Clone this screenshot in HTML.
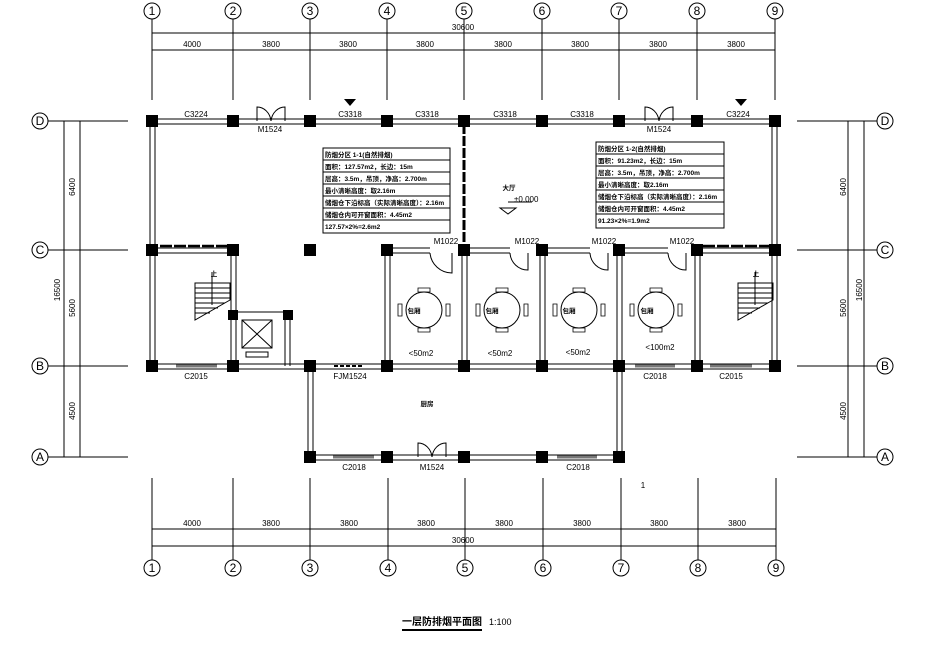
<!DOCTYPE html>
<html><head><meta charset="utf-8"><style>
html,body{margin:0;padding:0;background:#fff}
svg{display:block}
text{font-family:"Liberation Sans","Noto Sans CJK SC",sans-serif;fill:#000}
.t{font-size:8px}
.c{font-size:6.5px;font-weight:bold}
</style></head><body>
<svg width="938" height="663" viewBox="0 0 938 663" xmlns="http://www.w3.org/2000/svg">
<g stroke="#000" stroke-width="1" fill="none">
<path d="M152 19V100M233 19V100M310 19V100M387 19V100M464 19V100M542 19V100M619 19V100M697 19V100M775 19V100"/>
<path d="M152 33H775M152 50H775"/>
<path d="M152 478V560M233 478V560M310 478V560M388 478V560M465 478V560M543 478V560M621 478V560M698 478V560M776 478V560"/>
<path d="M152 529H776M152 546H776"/>
<path d="M48 121H128M48 250H128M48 366H128M48 457H128M64 121V457M80 121V457"/>
<path d="M797 121H877M797 250H877M797 366H877M797 457H877M848 121V457M864 121V457"/>
<circle cx="152" cy="11" r="8"/><circle cx="233" cy="11" r="8"/><circle cx="310" cy="11" r="8"/><circle cx="387" cy="11" r="8"/><circle cx="464" cy="11" r="8"/><circle cx="542" cy="11" r="8"/><circle cx="619" cy="11" r="8"/><circle cx="697" cy="11" r="8"/><circle cx="775" cy="11" r="8"/>
<circle cx="152" cy="568" r="8"/><circle cx="233" cy="568" r="8"/><circle cx="310" cy="568" r="8"/><circle cx="388" cy="568" r="8"/><circle cx="465" cy="568" r="8"/><circle cx="543" cy="568" r="8"/><circle cx="621" cy="568" r="8"/><circle cx="698" cy="568" r="8"/><circle cx="776" cy="568" r="8"/>
<circle cx="40" cy="121" r="8"/><circle cx="40" cy="250" r="8"/><circle cx="40" cy="366" r="8"/><circle cx="40" cy="457" r="8"/>
<circle cx="885" cy="121" r="8"/><circle cx="885" cy="250" r="8"/><circle cx="885" cy="366" r="8"/><circle cx="885" cy="457" r="8"/>
</g>
<g font-size="12" text-anchor="middle">
<text x="152" y="15">1</text><text x="233" y="15">2</text><text x="310" y="15">3</text><text x="387" y="15">4</text><text x="464" y="15">5</text><text x="542" y="15">6</text><text x="619" y="15">7</text><text x="697" y="15">8</text><text x="775" y="15">9</text>
<text x="152" y="572">1</text><text x="233" y="572">2</text><text x="310" y="572">3</text><text x="388" y="572">4</text><text x="465" y="572">5</text><text x="543" y="572">6</text><text x="621" y="572">7</text><text x="698" y="572">8</text><text x="776" y="572">9</text>
<text x="40" y="125">D</text><text x="40" y="254">C</text><text x="40" y="370">B</text><text x="40" y="461">A</text>
<text x="885" y="125">D</text><text x="885" y="254">C</text><text x="885" y="370">B</text><text x="885" y="461">A</text>
</g>
<g class="t" text-anchor="middle">
<text x="463" y="30">30600</text>
<text x="192" y="47">4000</text><text x="271" y="47">3800</text><text x="348" y="47">3800</text><text x="425" y="47">3800</text><text x="503" y="47">3800</text><text x="580" y="47">3800</text><text x="658" y="47">3800</text><text x="736" y="47">3800</text>
<text x="192" y="526">4000</text><text x="271" y="526">3800</text><text x="349" y="526">3800</text><text x="426" y="526">3800</text><text x="504" y="526">3800</text><text x="582" y="526">3800</text><text x="659" y="526">3800</text><text x="737" y="526">3800</text>
<text x="463" y="543">30600</text>
<text transform="translate(75,187) rotate(-90)">6400</text>
<text transform="translate(75,308) rotate(-90)">5600</text>
<text transform="translate(75,411) rotate(-90)">4500</text>
<text transform="translate(60,290) rotate(-90)">16500</text>
<text transform="translate(846,187) rotate(-90)">6400</text>
<text transform="translate(846,308) rotate(-90)">5600</text>
<text transform="translate(846,411) rotate(-90)">4500</text>
<text transform="translate(862,290) rotate(-90)">16500</text>
</g>
<g stroke="#000" stroke-width="1" fill="none">
<path d="M152 119H775M152 124H775"/>
<path d="M150 121V366M155 121V366M772 121V366M777 121V366"/>
<path d="M152 364H775M152 369H775"/>
<path d="M308 366V457M313 366V457M617 366V457M622 366V457"/>
<path d="M310 455H619M310 460H619"/>
<path d="M385 250V366M390 250V366M462 250V366M467 250V366M540 250V366M545 250V366M617 250V366M622 250V366M695 250V366M700 250V366"/>
<path d="M387 248H430M387 253H430M464 248H510M464 253H510M542 248H590M542 253H590M619 248H668M619 253H668"/>
<path d="M231 250V366M236 250V366M152 248H233M152 253H233"/>
<path d="M285 312V366M290 312V366M233 312H288"/>
<rect x="242" y="320" width="30" height="28"/><path d="M242 320L272 348M272 320L242 348"/>
<rect x="246" y="352" width="22" height="5"/>
<path d="M195 283V320L230 300V283ZM195 288H230M195 293H230M195 298H230M195 303H225M195 308H218M195 313H210M212 272V305"/>
<path d="M738 283V320L773 300V283ZM738 288H773M738 293H773M738 298H773M738 303H768M738 308H760M738 313H752M755 272V305"/>
<path d="M697 248H775M697 253H775"/>
<path d="M430 253A22 22 0 0 0 452 273V253M510 253A18 18 0 0 0 528 270V253M590 253A18 18 0 0 0 608 270V253M668 253A18 18 0 0 0 686 270V253"/>
<path d="M257 121V107A14 16 0 0 1 271 121A14 16 0 0 1 285 107V121M645 121V107A14 16 0 0 1 659 121A14 16 0 0 1 673 107V121M418 457V443A14 16 0 0 1 432 457A14 16 0 0 1 446 443V457"/>
<path d="M464 124V248" stroke-width="3" stroke-dasharray="10 2"/>
<path d="M160 246H230M703 246H770" stroke-width="2.5" stroke-dasharray="12 2"/>
<path d="M334 366H364" stroke-width="2" stroke-dasharray="4 2"/>
<circle cx="424" cy="310" r="18"/><circle cx="502" cy="310" r="18"/><circle cx="579" cy="310" r="18"/><circle cx="656" cy="310" r="18"/>
<g stroke-width="0.8">
<path d="M418 288h12v4h-12zM418 328h12v4h-12zM402 304v12h-4v-12zM446 304v12h4v-12z"/>
<path d="M496 288h12v4h-12zM496 328h12v4h-12zM480 304v12h-4v-12zM524 304v12h4v-12z"/>
<path d="M573 288h12v4h-12zM573 328h12v4h-12zM557 304v12h-4v-12zM601 304v12h4v-12z"/>
<path d="M650 288h12v4h-12zM650 328h12v4h-12zM634 304v12h-4v-12zM678 304v12h4v-12z"/>
</g>
<path d="M176 366h41M635 366h40M710 366h42M333 457h41M557 457h40" stroke="#777" stroke-width="3"/>
<rect x="323" y="148" width="127" height="85"/>
<path d="M323 160H450M323 172H450M323 184H450M323 196H450M323 208H450M323 220H450"/>
<rect x="596" y="142" width="128" height="86"/>
<path d="M596 154H724M596 166H724M596 178H724M596 190H724M596 202H724M596 214H724"/>
<path d="M500 208l8 6l8 -6zM508 202H532"/>
<path d="M402 630H482" stroke-width="2"/>
</g>
<path d="M344 99h12l-6 7z M735 99h12l-6 7z" fill="#000"/>
<g fill="#000">
<rect x="146" y="115" width="12" height="12"/><rect x="227" y="115" width="12" height="12"/><rect x="304" y="115" width="12" height="12"/><rect x="381" y="115" width="12" height="12"/><rect x="458" y="115" width="12" height="12"/><rect x="536" y="115" width="12" height="12"/><rect x="613" y="115" width="12" height="12"/><rect x="691" y="115" width="12" height="12"/><rect x="769" y="115" width="12" height="12"/>
<rect x="146" y="244" width="12" height="12"/><rect x="227" y="244" width="12" height="12"/><rect x="304" y="244" width="12" height="12"/><rect x="381" y="244" width="12" height="12"/><rect x="458" y="244" width="12" height="12"/><rect x="536" y="244" width="12" height="12"/><rect x="613" y="244" width="12" height="12"/><rect x="691" y="244" width="12" height="12"/><rect x="769" y="244" width="12" height="12"/>
<rect x="146" y="360" width="12" height="12"/><rect x="227" y="360" width="12" height="12"/><rect x="304" y="360" width="12" height="12"/><rect x="381" y="360" width="12" height="12"/><rect x="458" y="360" width="12" height="12"/><rect x="536" y="360" width="12" height="12"/><rect x="613" y="360" width="12" height="12"/><rect x="691" y="360" width="12" height="12"/><rect x="769" y="360" width="12" height="12"/>
<rect x="228" y="310" width="10" height="10"/><rect x="283" y="310" width="10" height="10"/>
<rect x="304" y="451" width="12" height="12"/><rect x="381" y="451" width="12" height="12"/><rect x="458" y="451" width="12" height="12"/><rect x="536" y="451" width="12" height="12"/><rect x="613" y="451" width="12" height="12"/>
</g>
<g class="t" text-anchor="middle">
<text x="196" y="117">C3224</text><text x="270" y="132">M1524</text><text x="350" y="117">C3318</text><text x="427" y="117">C3318</text><text x="505" y="117">C3318</text><text x="582" y="117">C3318</text><text x="659" y="132">M1524</text><text x="738" y="117">C3224</text>
<text x="446" y="244">M1022</text><text x="527" y="244">M1022</text><text x="604" y="244">M1022</text><text x="682" y="244">M1022</text>
<text x="196" y="379">C2015</text><text x="350" y="379">FJM1524</text><text x="655" y="379">C2018</text><text x="731" y="379">C2015</text>
<text x="354" y="470">C2018</text><text x="432" y="470">M1524</text><text x="578" y="470">C2018</text>
<text x="421" y="356">&lt;50m2</text><text x="500" y="356">&lt;50m2</text><text x="578" y="355">&lt;50m2</text><text x="660" y="350">&lt;100m2</text>
<text x="643" y="488">1</text>
</g>
<g class="c" text-anchor="middle">
<text x="414" y="313">包厢</text><text x="492" y="313">包厢</text><text x="569" y="313">包厢</text><text x="647" y="313">包厢</text>
<text x="427" y="406">厨房</text><text x="509" y="190">大厅</text>
<text x="214" y="276">上</text><text x="756" y="276">上</text>
</g>
<text x="514" y="202" class="t">±0.000</text>
<g class="c">
<text x="325" y="157">防烟分区 1-1(自然排烟)</text>
<text x="325" y="169">面积：127.57m2，长边：15m</text>
<text x="325" y="181">层高：3.5m，吊顶，净高：2.700m</text>
<text x="325" y="193">最小清晰高度：取2.16m</text>
<text x="325" y="205">储烟仓下沿标高（实际清晰高度）：2.16m</text>
<text x="325" y="217">储烟仓内可开窗面积：4.45m2</text>
<text x="325" y="229">127.57×2%=2.6m2</text>
<text x="598" y="151">防烟分区 1-2(自然排烟)</text>
<text x="598" y="163">面积：91.23m2，长边：15m</text>
<text x="598" y="175">层高：3.5m，吊顶，净高：2.700m</text>
<text x="598" y="187">最小清晰高度：取2.16m</text>
<text x="598" y="199">储烟仓下沿标高（实际清晰高度）：2.16m</text>
<text x="598" y="211">储烟仓内可开窗面积：4.45m2</text>
<text x="598" y="223">91.23×2%=1.9m2</text>
</g>
<text x="402" y="625" font-size="10" font-weight="bold" textLength="80" lengthAdjust="spacingAndGlyphs">一层防排烟平面图</text>
<text x="489" y="625" font-size="9">1:100</text>
</svg>
</body></html>
